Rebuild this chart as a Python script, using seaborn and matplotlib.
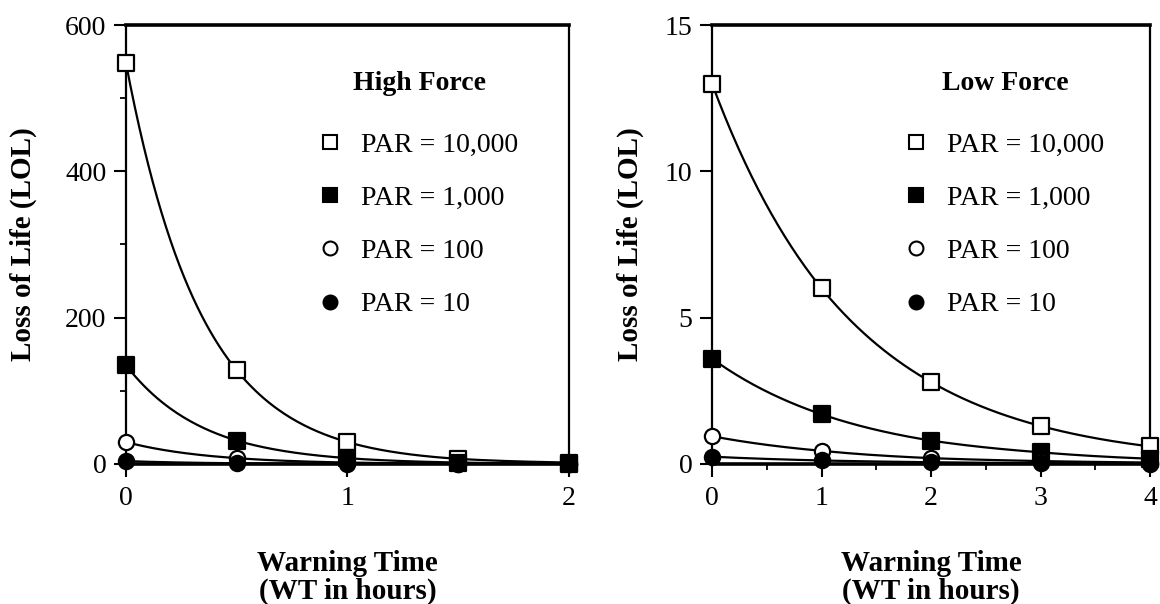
import numpy as np
import seaborn as sns
import matplotlib.pyplot as plt
from matplotlib.lines import Line2D
from matplotlib.ticker import MultipleLocator


################################################################################

X_LABEL = "Warning Time\n(WT in hours)"
Y_LABEL = "Loss of Life (LOL)"
SERIES = ["PAR = 10,000", "PAR = 1,000", "PAR = 100", "PAR = 10"]

# High force panel
WT_HIGH = [0, 0.5, 1, 1.5, 2]
LOL_HIGH_10000 = [548, 128, 30, 7, 2]
LOL_HIGH_1000 = [135, 32, 8, 2, 0.5]
LOL_HIGH_100 = [30, 8, 2, 0.5, 0.1]
LOL_HIGH_10 = [4, 1, 0.3, 0.1, 0.02]

# Low force panel
WT_LOW = [0, 1, 2, 3, 4]
LOL_LOW_10000 = [13.0, 6.0, 2.8, 1.3, 0.6]
LOL_LOW_1000 = [3.6, 1.7, 0.8, 0.4, 0.18]
LOL_LOW_100 = [0.95, 0.45, 0.2, 0.1, 0.05]
LOL_LOW_10 = [0.25, 0.12, 0.06, 0.03, 0.01]

# marker, face colour per series
MARKERS = [("s", "white"), ("s", "black"), ("o", "white"), ("o", "black")]


def smoothCurve(x, y):
  # draw the decay between read points as piecewise exponential
  xs = np.linspace(x[0], x[-1], 200)
  ys = np.exp(np.interp(xs, x, np.log(y)))
  return xs, ys


def plotPanel(ax, wt, series, title, ymax, ymajor, yminor, xminor, legx):
  for (marker, face), lol in zip(MARKERS, series):
    xs, ys = smoothCurve(wt, lol)
    sns.lineplot(x=xs, y=ys, color="black", linewidth=1.6, ax=ax,
                 clip_on=False, zorder=3)
  for (marker, face), lol in zip(MARKERS, series):
    sns.scatterplot(x=wt, y=lol, marker=marker, s=120, facecolor=face,
                    edgecolor="black", linewidth=1.6, ax=ax, clip_on=False,
                    zorder=4)

  ax.set_xlim(wt[0], wt[-1])
  ax.set_ylim(0, ymax)
  ax.set_xticks(wt[::2] if wt[1] == 0.5 else wt)
  ax.yaxis.set_major_locator(MultipleLocator(ymajor))
  if yminor:
    ax.yaxis.set_minor_locator(MultipleLocator(yminor))
  if xminor:
    ax.xaxis.set_minor_locator(MultipleLocator(xminor))

  ax.tick_params(axis="both", which="major", direction="out", length=9,
                 width=1.5, labelsize=20, pad=5, color="black",
                 labelcolor="black")
  ax.tick_params(axis="x", which="major", pad=7)
  ax.tick_params(axis="both", which="minor", direction="out", length=4,
                 width=1.3, color="black")
  for s in ax.spines.values():
    s.set_linewidth(1.6)
    s.set_color("black")
    s.set_visible(True)
  ax.spines["top"].set_linewidth(2.6)
  ax.spines["bottom"].set_linewidth(2.6)

  ax.set_xlabel(X_LABEL, fontsize=21, fontweight="bold", linespacing=1.05,
                color="black")
  ax.set_ylabel(Y_LABEL, fontsize=21, fontweight="bold", color="black")
  ax.xaxis.set_label_coords(0.5, -0.195)

  handles = [Line2D([], [], linestyle="none", marker=m, markersize=10,
                    markerfacecolor=f, markeredgecolor="black",
                    markeredgewidth=1.5) for m, f in MARKERS]
  leg = ax.legend(handles, SERIES, title=title, frameon=False, loc="upper left",
                  bbox_to_anchor=(legx, 0.895), borderpad=0, borderaxespad=0,
                  fontsize=20,
                  title_fontproperties={"weight": "bold", "size": 20},
                  handlelength=0.6, handletextpad=0.8, labelspacing=1.0)
  leg._legend_box.sep = 26
  for t in leg.get_texts():
    t.set_color("black")
  leg.get_title().set_color("black")


def main():

  sns.set_style("ticks")
  plt.rcParams["font.family"] = ["Liberation Serif", "DejaVu Serif"]

  fig = plt.figure(figsize=(11.6, 6.04), dpi=100)
  ax1 = fig.add_axes([0.1086, 0.2318, 0.3819, 0.7268])
  ax2 = fig.add_axes([0.6138, 0.2318, 0.3776, 0.7268])

  plotPanel(ax1, WT_HIGH,
            [LOL_HIGH_10000, LOL_HIGH_1000, LOL_HIGH_100, LOL_HIGH_10],
            "High Force", 600, 200, 100, None, 0.442)
  plotPanel(ax2, WT_LOW,
            [LOL_LOW_10000, LOL_LOW_1000, LOL_LOW_100, LOL_LOW_10],
            "Low Force", 15, 5, None, 0.5, 0.447)

  ax1.yaxis.set_label_coords(-0.20, 0.5)
  ax2.yaxis.set_label_coords(-0.155, 0.5)

  fig.savefig("out.png", dpi=100)

main()
